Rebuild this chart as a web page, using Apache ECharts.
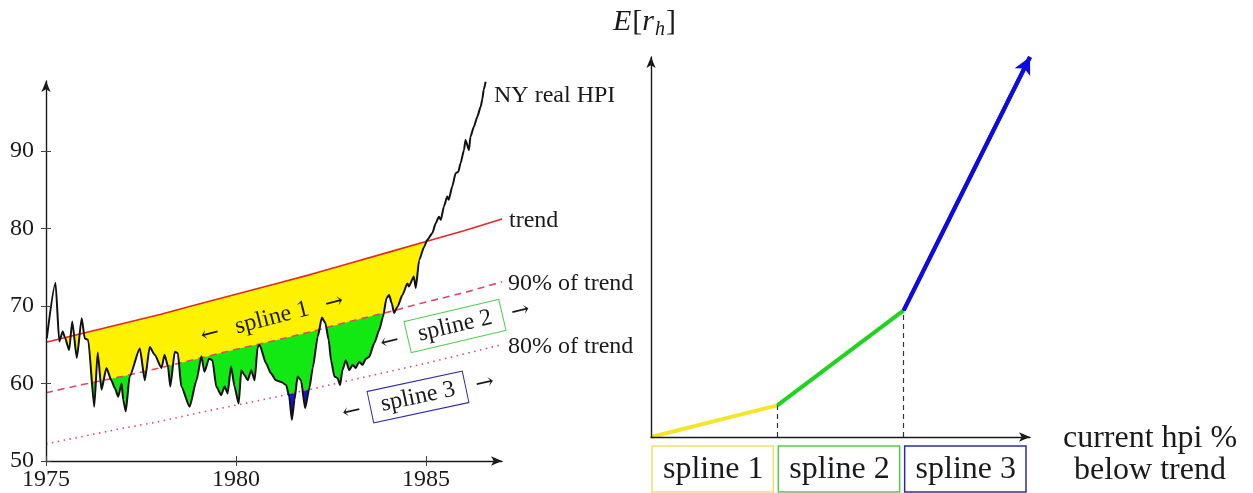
<!DOCTYPE html>
<html>
<head>
<meta charset="utf-8">
<title>NY real HPI, trend and splines</title>
<script src="https://cdn.jsdelivr.net/npm/echarts@6/dist/echarts.min.js"></script>
<style>
  html, body { margin: 0; padding: 0; background: #fff; }
  #main { width: 1253px; height: 493px; }
</style>
</head>
<body>
<div id="main"></div>
<script>
// left panel: NY real HPI
var hpiYears = [1975.02, 1975.25, 1975.35, 1975.44, 1975.50, 1975.61, 1975.69, 1975.81, 1975.94, 1976.02,
  1976.11, 1976.27, 1976.36, 1976.46, 1976.59, 1976.72, 1976.81, 1976.90, 1976.99, 1977.03,
  1977.10, 1977.20, 1977.47, 1977.60, 1977.73, 1977.86, 1978.04, 1978.12, 1978.21, 1978.27,
  1978.39, 1978.47, 1978.56, 1978.78, 1978.96, 1979.09, 1979.17, 1979.29, 1979.38, 1979.48,
  1979.61, 1979.70, 1979.78, 1979.87, 1979.96, 1980.07, 1980.14, 1980.22, 1980.31, 1980.40,
  1980.49, 1980.57, 1980.62, 1980.79, 1980.92, 1981.05, 1981.19, 1981.32, 1981.40, 1981.47,
  1981.54, 1981.62, 1981.71, 1981.82, 1981.93, 1982.02, 1982.15, 1982.26, 1982.35, 1982.44,
  1982.50, 1982.59, 1982.67, 1982.74, 1982.80, 1982.89, 1982.98, 1983.07, 1983.15, 1983.24,
  1983.33, 1983.42, 1983.50, 1983.64, 1983.77, 1983.87, 1983.96, 1984.03, 1984.10, 1984.16,
  1984.25, 1984.38, 1984.51, 1984.55, 1984.68, 1984.73, 1984.82, 1984.95, 1985.03, 1985.17,
  1985.25, 1985.34, 1985.39, 1985.47, 1985.56, 1985.60, 1985.69, 1985.78, 1985.85, 1985.91,
  1986.00, 1986.04, 1986.13, 1986.17, 1986.26, 1986.35, 1986.44, 1986.48, 1986.52, 1986.57];
var hpi = [65.8, 73.0, 65.4, 66.7, 65.9, 64.3, 68.0, 63.3, 68.4, 65.8,
  65.6, 57.0, 64.0, 59.2, 62.0, 60.4, 59.4, 58.3, 60.0, 57.9,
  56.4, 60.9, 64.5, 60.4, 64.7, 63.7, 62.0, 63.7, 62.2, 59.6,
  64.1, 63.9, 59.6, 57.0, 60.4, 63.5, 61.5, 63.2, 63.0, 59.6,
  58.5, 59.6, 58.7, 62.2, 59.6, 57.4, 61.7, 61.1, 60.4, 61.7,
  60.4, 64.7, 65.0, 62.6, 61.3, 60.4, 60.2, 59.8, 58.3, 55.3,
  57.9, 60.9, 60.4, 56.8, 59.4, 62.0, 66.0, 68.5, 67.8, 65.6,
  63.0, 60.9, 60.7, 59.8, 61.7, 63.0, 61.7, 62.4, 62.0, 62.8,
  62.4, 63.2, 63.4, 65.2, 66.9, 68.6, 71.0, 71.4, 70.3, 69.1,
  69.9, 71.4, 72.9, 72.5, 73.8, 72.3, 75.9, 77.6, 78.5, 79.4,
  80.6, 81.5, 81.1, 82.8, 84.1, 83.7, 85.4, 87.1, 87.3, 88.4,
  90.1, 91.4, 90.1, 91.8, 93.1, 94.4, 95.7, 96.6, 97.9, 98.9];

var trendYears = [1975, 1976, 1977, 1978, 1979, 1980, 1981, 1982, 1983, 1984, 1985, 1986, 1987];
var trend   = [65.3, 66.5, 67.7, 68.9, 70.2, 71.5, 72.8, 74.1, 75.5, 76.9, 78.3, 79.7, 81.2];
var trend90 = [58.8, 59.9, 60.9, 62.0, 63.2, 64.4, 65.5, 66.7, 68.0, 69.2, 70.5, 71.7, 73.1];
var trend80 = [52.2, 53.2, 54.2, 55.1, 56.2, 57.2, 58.2, 59.3, 60.4, 61.5, 62.6, 63.8, 65.0];

var yTicks = [50, 60, 70, 80, 90];
var xTicks = [1975, 1980, 1985];

// right panel: piecewise E[r_h]
var knotX = [0, 1, 2, 3];
var knotY = [0, 1, 4, 12];
var splineNames = ['spline 1', 'spline 2', 'spline 3'];
var splineColors = ['#f4e52c', '#1fd41f', '#0b0be6'];
var boxColors = ['#ebe26c', '#4ccf4c', '#2b2ba6'];

function zip(xs, ys) {
  return xs.map(function (x, i) { return [x, ys[i]]; });
}

var serif = '"Liberation Serif", "DejaVu Serif", serif';
var ink = '#1a1a1a';
var hpiSmooth = 0.2;

var chart = echarts.init(document.getElementById('main'));

// the fills only matter while the HPI is under the trend, so stop them at 1986
var fillYears = trendYears.slice(0, -1);

function fill(xs, ys, color, smooth) {
  return {
    type: 'line', xAxisIndex: 0, yAxisIndex: 0,
    data: zip(xs, ys), symbol: 'none', smooth: smooth || false, smoothMonotone: 'x', silent: true,
    lineStyle: { width: 0 },
    areaStyle: { color: color, opacity: 1, origin: 'start' }
  };
}

function curve(xs, ys, style, smooth) {
  return {
    type: 'line', xAxisIndex: 0, yAxisIndex: 0,
    data: zip(xs, ys), symbol: 'none', smooth: smooth || false, smoothMonotone: 'x', silent: true,
    lineStyle: style
  };
}

function segment(i) {
  return {
    type: 'line', xAxisIndex: 1, yAxisIndex: 1,
    data: zip(knotX.slice(i, i + 2), knotY.slice(i, i + 2)),
    symbol: 'none', silent: true,
    lineStyle: { color: splineColors[i], width: 4 }
  };
}

var seg1 = segment(0);
seg1.markLine = {
  silent: true, symbol: ['none', 'none'], label: { show: false },
  lineStyle: { type: [5, 4], color: '#333', width: 1.2 },
  data: [
    [{ coord: [knotX[1], knotY[0]] }, { coord: [knotX[1], knotY[1]] }],
    [{ coord: [knotX[2], knotY[0]] }, { coord: [knotX[2], knotY[2]] }]
  ]
};
var seg3 = segment(2);
seg3.markLine = {
  silent: true, symbol: ['none', 'arrow'], symbolSize: [13, 17], label: { show: false },
  lineStyle: { type: 'solid', color: splineColors[2], width: 4 },
  data: [[{ coord: [knotX[2], knotY[2]] }, { coord: [knotX[3], knotY[3]] }]]
};

var arrowLine = { show: true, symbol: ['none', 'arrow'], symbolSize: [7, 11], lineStyle: { color: ink, width: 1.4 } };
function plain(v) { return String(v); }

chart.setOption({
  animation: false,
  grid: [
    { left: 46, right: 751, top: 81, bottom: 32 },
    { left: 651, right: 223, top: 57, bottom: 56 }
  ],
  xAxis: [
    {
      gridIndex: 0, type: 'value', min: 1975, max: 1987, z: 5,
      axisLine: arrowLine,
      axisTick: { show: true, customValues: xTicks, length: 5, lineStyle: { color: '#444' } },
      axisLabel: { customValues: xTicks, formatter: plain, margin: 7, fontFamily: serif, fontSize: 24, color: ink },
      splitLine: { show: false }
    },
    {
      gridIndex: 1, type: 'value', min: 0, max: 3, z: 5,
      axisLine: arrowLine, axisTick: { show: false }, axisLabel: { show: false }, splitLine: { show: false }
    },
    {
      gridIndex: 0, type: 'value', position: 'bottom', min: 1975, max: 1987, z: 5,
      axisLine: { show: false },
      axisTick: { show: true, inside: true, customValues: xTicks, length: 5, lineStyle: { color: '#444' } },
      axisLabel: { show: false }, splitLine: { show: false }
    }
  ],
  yAxis: [
    {
      gridIndex: 0, type: 'value', min: 50, max: 99, z: 5,
      axisLine: arrowLine,
      axisTick: { show: true, customValues: yTicks, length: 5, lineStyle: { color: '#444' } },
      axisLabel: { customValues: yTicks, formatter: plain, margin: 12, fontFamily: serif, fontSize: 24, color: ink },
      splitLine: { show: false }
    },
    {
      gridIndex: 1, type: 'value', min: 0, max: 12, z: 5,
      axisLine: arrowLine, axisTick: { show: false }, axisLabel: { show: false }, splitLine: { show: false }
    },
    {
      gridIndex: 0, type: 'value', position: 'left', min: 50, max: 99, z: 5,
      axisLine: { show: false },
      axisTick: { show: true, inside: true, customValues: yTicks, length: 5, lineStyle: { color: '#444' } },
      axisLabel: { show: false }, splitLine: { show: false }
    }
  ],
  series: [
    fill(fillYears, trend.slice(0, -1), '#fff200'),
    fill(fillYears, trend90.slice(0, -1), '#12e812'),
    fill(fillYears, trend80.slice(0, -1), '#1414d8'),
    fill(hpiYears, hpi, '#ffffff', hpiSmooth),
    curve(trendYears, trend, { color: '#e8262a', width: 1.6 }),
    curve(trendYears, trend90, { color: '#e4466a', width: 1.6, type: [7, 5] }),
    curve(trendYears, trend80, { color: '#e4466a', width: 1.6, type: [1.5, 4.5] }),
    curve(hpiYears, hpi, { color: '#111', width: 2 }, hpiSmooth),
    seg1,
    segment(1),
    seg3
  ]
});

// annotations
function lpx(x) { return chart.convertToPixel({ xAxisIndex: 0 }, x); }
function lpy(y) { return chart.convertToPixel({ yAxisIndex: 0 }, y); }
function rpx(x) { return chart.convertToPixel({ xAxisIndex: 1 }, x); }

function label(x, y, text, size, align, family) {
  return {
    type: 'text', x: x, y: y, z: 20, silent: true,
    style: {
      text: text, fill: ink, font: size + 'px ' + (family || serif),
      align: align || 'left', verticalAlign: 'middle',
      textAlign: align || 'left', textVerticalAlign: 'middle'
    }
  };
}

function tag(cx, cy, rot, name, color, gap) {
  var box = label(0, 0, name, 24, 'center');
  if (color) {
    box.style.borderColor = color;
    box.style.borderWidth = 1;
    box.style.padding = [5, 11, 3, 11];
  }
  var arrows = '"DejaVu Serif", serif';
  return {
    type: 'group', x: cx, y: cy, rotation: rot, z: 20,
    children: [label(-gap, 1, '\u2190', 22, 'center', arrows), box, label(gap, 1, '\u2192', 22, 'center', arrows)]
  };
}

var last = trendYears.length - 1;
var gfx = [
  label(494, 96, 'NY real HPI', 24),
  label(lpx(trendYears[last]) + 7, lpy(trend[last]) + 2, 'trend', 24),
  label(lpx(trendYears[last]) + 6, lpy(trend90[last]) + 2, '90% of trend', 24),
  label(lpx(trendYears[last]) + 6, lpy(trend80[last]) + 2, '80% of trend', 24),
  tag(272, 318, 0.25, splineNames[0], null, 64),
  tag(455, 326, 0.23, splineNames[1], boxColors[1], 67),
  tag(418, 397, 0.21, splineNames[2], boxColors[2], 68),
  label(1150, 439, 'current hpi %', 32, 'center'),
  label(1150, 471, 'below trend', 32, 'center'),
  {
    type: 'text', x: 613, y: 22, z: 20, silent: true,
    style: {
      text: '{i|E}{n|[}{i|r}{s|h}{n|]}',
      verticalAlign: 'middle', textVerticalAlign: 'middle',
      rich: {
        i: { fontFamily: serif, fontStyle: 'italic', fontSize: 30, fill: ink, padding: [0, 1, 0, 0], verticalAlign: 'middle' },
        n: { fontFamily: serif, fontSize: 30, fill: ink, verticalAlign: 'middle' },
        s: { fontFamily: serif, fontStyle: 'italic', fontSize: 20, fill: ink, padding: [16, 1, 0, 0], verticalAlign: 'middle' }
      }
    }
  }
];

for (var i = 0; i < splineNames.length; i++) {
  var x0 = rpx(knotX[i]), x1 = rpx(knotX[i + 1]);
  gfx.push({
    type: 'rect', z: 20, silent: true,
    shape: { x: x0 + 1, y: 446, width: x1 - x0 - 5, height: 46 },
    style: { fill: 'none', stroke: boxColors[i], lineWidth: 1.5 }
  });
  gfx.push(label((x0 + x1) / 2 - 1, 470, splineNames[i], 32, 'center'));
}

chart.setOption({ graphic: gfx });
</script>
</body>
</html>
